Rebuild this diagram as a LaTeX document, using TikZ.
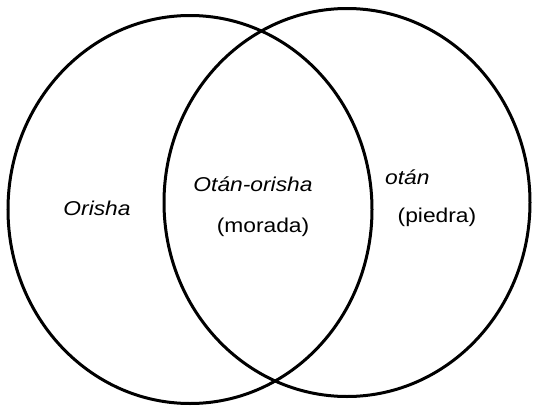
\documentclass[tikz,border=0pt]{standalone}
\usepackage{fontspec}
\setmainfont[FakeStretch=1.14]{Liberation Sans}
\begin{document}
\begin{tikzpicture}[x=1pt,y=-1pt,
  ring/.style={draw=black,line width=3pt},
  lbl/.style={font=\fontsize{20}{24}\selectfont,inner sep=0pt,anchor=center}]
\useasboundingbox (0,0) rectangle (533,407);
\fill[white] (0,0) rectangle (533,407);
\draw[ring] (190,209.5) ellipse [x radius=182, y radius=194];
\draw[ring] (347,202.5) ellipse [x radius=183, y radius=194];
\node[lbl] (orisha) at (97,208) {\itshape Orisha};
\node[lbl] (otanorisha) at (253,184) {\itshape Otán-orisha};
\node[lbl] (morada) at (263,227) {(morada)};
\node[lbl,anchor=west] (otan) at (385,177) {\itshape otán};
\node[lbl] (piedra) at (437,217) {(piedra)};
\end{tikzpicture}
\end{document}
